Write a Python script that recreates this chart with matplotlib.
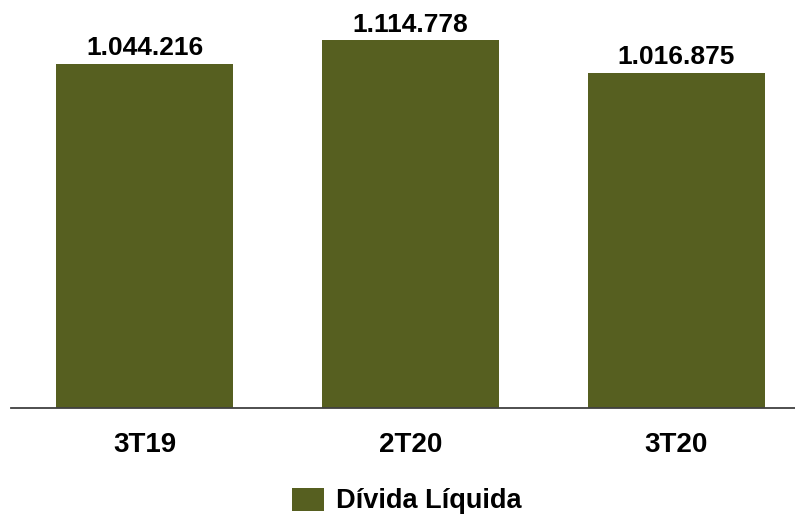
import matplotlib
matplotlib.use("Agg")
import matplotlib.pyplot as plt

categories = ["3T19", "2T20", "3T20"]
values = [1044216, 1114778, 1016875]
labels = ["1.044.216", "1.114.778", "1.016.875"]
series_name = "Dívida Líquida"

plt.rcParams['font.family'] = ['Liberation Sans', 'DejaVu Sans']
color = "#565F20"

fig = plt.figure(figsize=(7.95, 5.19), dpi=100)
W, H = 795, 519
ax = fig.add_axes([11 / W, (H - 408) / H, (W - 11) / W, 408 / H])
x = list(range(len(categories)))
ax.bar(x, values, width=0.665, color=color, label=series_name)
ax.set_xlim(-0.502, 2.446)
ax.set_ylim(0, 1237500)
for xi, v, lab in zip(x, values, labels):
    ax.text(xi, v + 12000, lab, ha='center', va='bottom', fontsize=19, fontweight='bold')
for s in ['top', 'right', 'left']:
    ax.spines[s].set_visible(False)
ax.spines['bottom'].set_color('#404040')
ax.spines['bottom'].set_linewidth(1.3)
ax.set_yticks([])
ax.set_xticks(x)
ax.set_xticklabels(categories, fontsize=20, fontweight='bold')
ax.tick_params(axis='x', length=0, pad=17)

fig.legend(loc='center', bbox_to_anchor=(407 / W, (H - 501) / H), frameon=False,
           prop={'size': 19.5, 'weight': 'bold'}, handlelength=1.18, handleheight=0.95,
           handletextpad=0.45)
fig.savefig("out.png", dpi=100)
